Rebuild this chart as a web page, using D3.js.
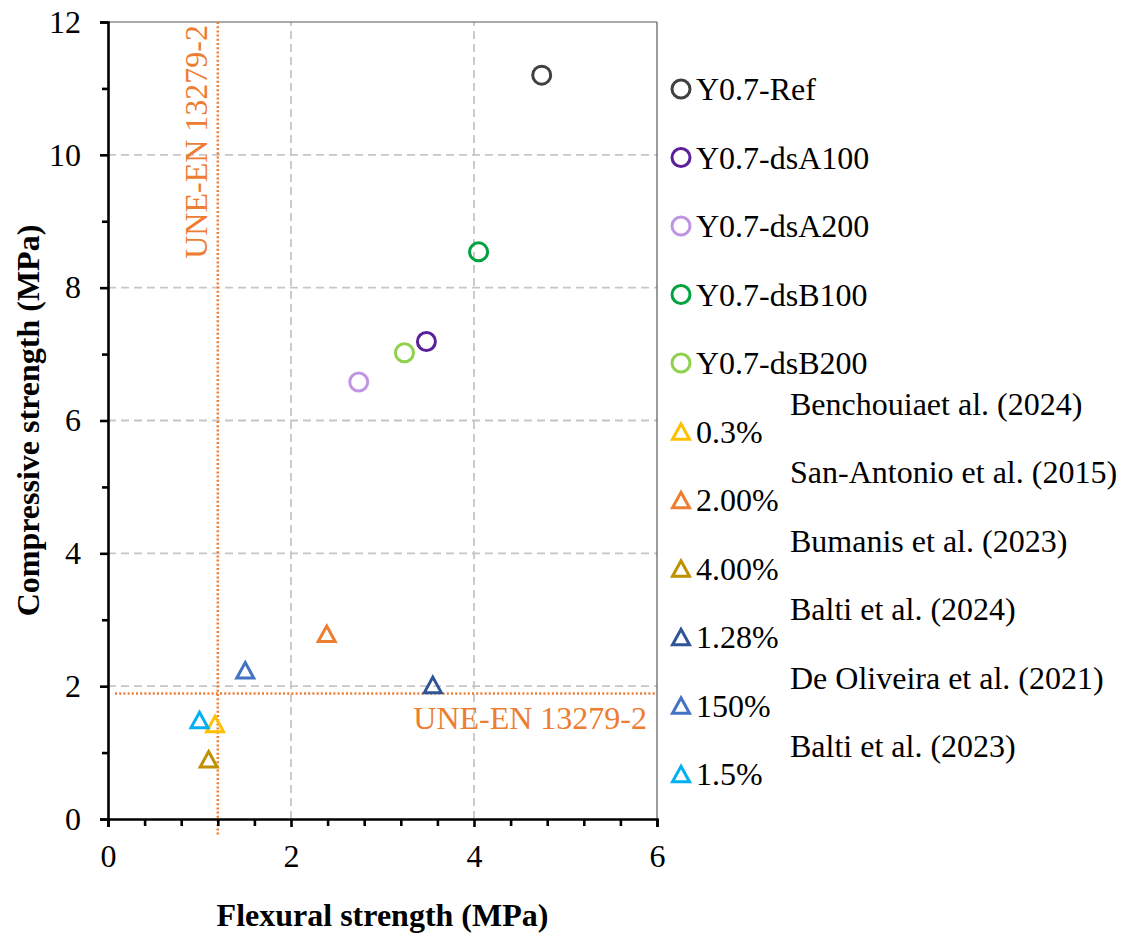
<!DOCTYPE html>
<html><head><meta charset="utf-8">
<script src="https://cdn.jsdelivr.net/npm/d3@7"></script>
<style>
body{margin:0;background:#fff}
svg{display:block}
svg text{font-family:"Liberation Serif","Times New Roman",serif !important;fill:#000}
</style>
</head><body>
<svg id="chart" width="1124" height="936" font-family="Liberation Serif"></svg>
<script>
// ---------- data ----------
const seriesNames  = ["Y0.7-Ref","Y0.7-dsA100","Y0.7-dsA200","Y0.7-dsB100","Y0.7-dsB200",
                      "0.3%","2.00%","4.00%","1.28%","150%","1.5%"];
const flexural     = [4.74, 3.48, 2.74, 4.05, 3.24, 1.17, 2.39, 1.10, 3.55, 1.50, 1.00];
const compressive  = [11.2, 7.19, 6.58, 8.54, 7.02, 1.43, 2.79, 0.90, 2.02, 2.24, 1.49];
const markerShapes = ["circle","circle","circle","circle","circle",
                      "triangle","triangle","triangle","triangle","triangle","triangle"];
const seriesColors = ["#404040","#5b1f99","#c095e4","#00a33e","#8fd14f",
                      "#ffc000","#ed7d31","#bf9000","#2f5597","#4472c4","#00b0f0"];
const authorLabels = ["Benchouiaet al. (2024)","San-Antonio et al. (2015)","Bumanis et al. (2023)",
                      "Balti et al. (2024)","De Oliveira et al. (2021)","Balti et al. (2023)"];
const xTicks = [0,2,4,6];
const yTicks = [0,2,4,6,8,10,12];
const xMinorTicks = [0.4,0.8,1.2,1.6,2.4,2.8,3.2,3.6,4.4,4.8,5.2,5.6];
const yMinorTicks = [1,3,5,7,9,11];
const refFlexural = 1.2;
const refCompressive = 1.89;
const refLabel = "UNE-EN 13279-2";
const xTitle = "Flexural strength (MPa)";
const yTitle = "Compressive strength (MPa)";

// ---------- layout ----------
const FONT = "Liberation Serif, Times New Roman, serif";
const svg = d3.select("#chart");
const x = d3.scaleLinear().domain([0,6]).range([108,657]);
const y = d3.scaleLinear().domain([0,12]).range([819,22]);
const orange = "#ed7d31";

// gridlines
const grid = svg.append("g");
grid.selectAll("line.gy").data(yTicks.filter(v=>v>0 && v<12)).join("line")
  .attr("x1",x(0)).attr("x2",x(6)).attr("y1",d=>y(d)).attr("y2",d=>y(d))
  .attr("stroke","#c6c6c6").attr("stroke-width",1.8).attr("stroke-dasharray","8,5");
grid.selectAll("line.gx").data(xTicks.filter(v=>v>0 && v<6)).join("line")
  .attr("x1",d=>x(d)).attr("x2",d=>x(d)).attr("y1",y(0)).attr("y2",y(12))
  .attr("stroke","#c6c6c6").attr("stroke-width",1.8).attr("stroke-dasharray","8,5");
// frame top / right
svg.append("line").attr("x1",x(0)).attr("x2",x(6)).attr("y1",y(12)).attr("y2",y(12))
  .attr("stroke","#595959").attr("stroke-width",1.2);
svg.append("line").attr("x1",x(6)).attr("x2",x(6)).attr("y1",y(12)).attr("y2",y(0))
  .attr("stroke","#595959").attr("stroke-width",1.2);

// reference lines
svg.append("line").attr("x1",x(refFlexural)).attr("x2",x(refFlexural))
  .attr("y1",y(12)).attr("y2",y(0)+17)
  .attr("stroke",orange).attr("stroke-width",2.5).attr("stroke-dasharray","2,2.2");
svg.append("line").attr("x1",x(0)+7).attr("x2",x(6))
  .attr("y1",y(refCompressive)).attr("y2",y(refCompressive))
  .attr("stroke",orange).attr("stroke-width",2.5).attr("stroke-dasharray","2,2.2");
svg.append("text").text(refLabel)
  .attr("transform",`translate(${x(refFlexural)-11},${y(12)+3}) rotate(-90)`)
  .attr("text-anchor","end").attr("font-size",32).style("fill",orange);
svg.append("text").text(refLabel)
  .attr("x",x(6)-10).attr("y",y(refCompressive)+36)
  .attr("text-anchor","end").attr("font-size",32).style("fill",orange);

// axes
const xAxis = svg.append("g").attr("transform",`translate(0,${y(0)})`)
  .call(d3.axisBottom(x).tickValues(xTicks).tickSize(8).tickPadding(17).tickFormat(d3.format("d")));
const xMinor = svg.append("g").attr("transform",`translate(0,${y(0)})`)
  .call(d3.axisBottom(x).tickValues(xMinorTicks).tickSize(7).tickFormat(""));
const yAxis = svg.append("g").attr("transform",`translate(${x(0)},0)`)
  .call(d3.axisLeft(y).tickValues(yTicks).tickSize(8).tickPadding(19).tickFormat(d3.format("d")));
const yMinor = svg.append("g").attr("transform",`translate(${x(0)},0)`)
  .call(d3.axisLeft(y).tickValues(yMinorTicks).tickSize(6).tickFormat(""));
[xAxis,xMinor,yAxis,yMinor].forEach(g=>{
  g.attr("font-family",FONT).attr("font-size",32);
  g.select(".domain").attr("stroke","#000").attr("stroke-width",2.6);
  g.selectAll(".tick line").attr("stroke","#000").attr("stroke-width",2.6);
  g.selectAll(".tick text").attr("font-size",32).style("fill","#000");
});
xMinor.select(".domain").remove(); yMinor.select(".domain").remove();

// axis titles
svg.append("text").text(xTitle).attr("x",(x(0)+x(6))/2).attr("y",926)
  .attr("text-anchor","middle").attr("font-size",32).attr("font-weight","bold");
svg.append("text").text(yTitle)
  .attr("transform",`translate(39,${(y(0)+y(12))/2}) rotate(-90)`)
  .attr("text-anchor","middle").attr("font-size",32).attr("font-weight","bold");

// marker paths
const triPath = "M0,-8.5L8.5,7L-8.5,7Z";
function drawMarker(g, shape, color){
  if(shape==="circle"){
    g.append("circle").attr("r",9).attr("fill","none").attr("stroke",color).attr("stroke-width",3);
  } else {
    g.append("path").attr("d",triPath).attr("transform","translate(0,0.8)")
      .attr("fill","none").attr("stroke",color).attr("stroke-width",3).attr("stroke-linejoin","miter");
  }
}

// data points
const idx = d3.range(seriesNames.length);
svg.append("g").selectAll("g").data(idx).join("g")
  .attr("transform",i=>`translate(${x(flexural[i])},${y(compressive[i])})`)
  .each(function(i){ drawMarker(d3.select(this), markerShapes[i], seriesColors[i]); });

// legend
const legendRow = d3.scaleLinear().domain([0,10]).range([89,774]);
const legend = svg.append("g");
idx.forEach(i=>{
  const g = legend.append("g").attr("transform",`translate(681,${legendRow(i)})`);
  drawMarker(g, markerShapes[i], seriesColors[i]);
  g.append("text").text(seriesNames[i]).attr("x",15).attr("dy","0.35em").attr("font-size",32);
});
authorLabels.forEach((t,k)=>{
  legend.append("text").text(t).attr("x",790).attr("y",legendRow(k+5)-28)
    .attr("dy","0.35em").attr("font-size",32);
});
</script>
</body></html>
